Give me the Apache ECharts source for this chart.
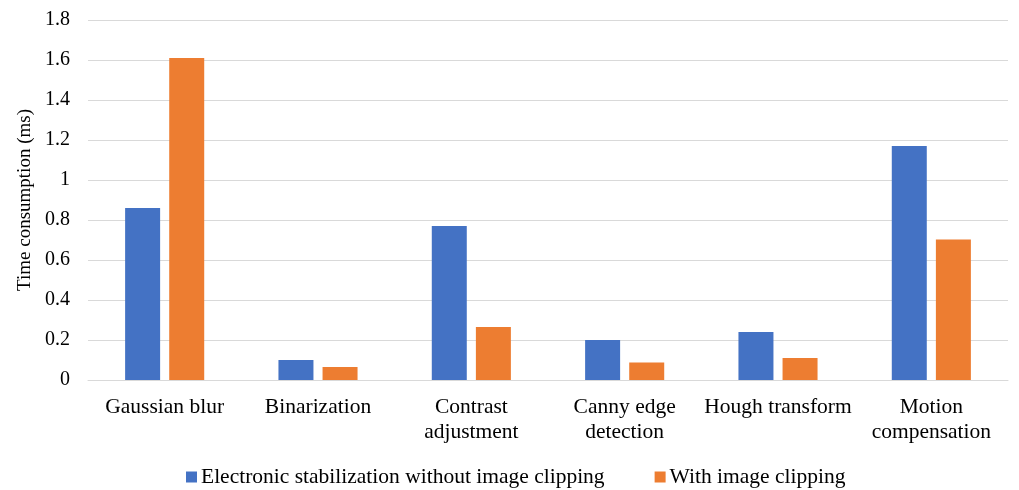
<!DOCTYPE html>
<html>
<head>
<meta charset="utf-8">
<script src="https://cdn.jsdelivr.net/npm/echarts@6/dist/echarts.min.js"></script>
<style>
  html, body { margin: 0; padding: 0; background: #fff; }
  #chart { width: 1019px; height: 490px; }
</style>
</head>
<body>
<div id="chart"></div>
<script>
// Processing steps (x-axis categories)
const categories = [
  'Gaussian blur',
  'Binarization',
  'Contrast\nadjustment',
  'Canny edge\ndetection',
  'Hough transform',
  'Motion\ncompensation'
];

// Time per step in ms
const withoutClipping = [0.86, 0.10, 0.77, 0.20, 0.24, 1.17];
const withClipping    = [1.61, 0.065, 0.265, 0.088, 0.11, 0.703];

const seriesNames = [
  'Electronic stabilization without image clipping',
  'With image clipping'
];

const font = '"Liberation Serif", "Times New Roman", serif';

const chart = echarts.init(document.getElementById('chart'), null, { renderer: 'canvas' });

chart.setOption({
  backgroundColor: '#ffffff',
  textStyle: { fontFamily: font, color: '#000' },
  grid: { left: 88, right: 11, top: 20, bottom: 110, containLabel: false },
  legend: {
    top: 461,
    left: 181,
    itemWidth: 11,
    itemHeight: 11,
    itemGap: 50,
    icon: 'rect',
    textStyle: { fontFamily: font, fontSize: 21.5, color: '#000', padding: [0, 0, 0, -1] },
    data: seriesNames
  },
  xAxis: {
    type: 'category',
    data: categories,
    axisTick: { show: false },
    axisLine: { lineStyle: { color: '#d9d9d9', width: 1 } },
    axisLabel: {
      fontFamily: font,
      fontSize: 21.5,
      color: '#000',
      margin: 15,
      lineHeight: 25,
      interval: 0
    }
  },
  yAxis: {
    type: 'value',
    min: 0,
    max: 1.8,
    interval: 0.2,
    name: 'Time consumption (ms)',
    nameLocation: 'middle',
    nameGap: 52,
    nameRotate: 90,
    nameTextStyle: { fontFamily: font, fontSize: 19, color: '#000' },
    axisLine: { show: false },
    axisTick: { show: false },
    splitLine: { lineStyle: { color: '#d9d9d9', width: 1 } },
    axisLabel: {
      fontFamily: font,
      fontSize: 20,
      color: '#000',
      margin: 18,
      formatter: v => String(Math.round(v * 10) / 10)
    }
  },
  series: [
    {
      name: seriesNames[0],
      type: 'bar',
      data: withoutClipping,
      barWidth: 35,
      barGap: '26%',
      itemStyle: { color: '#4472c4' }
    },
    {
      name: seriesNames[1],
      type: 'bar',
      data: withClipping,
      barWidth: 35,
      barGap: '26%',
      itemStyle: { color: '#ed7d31' }
    }
  ]
});
</script>
</body>
</html>
